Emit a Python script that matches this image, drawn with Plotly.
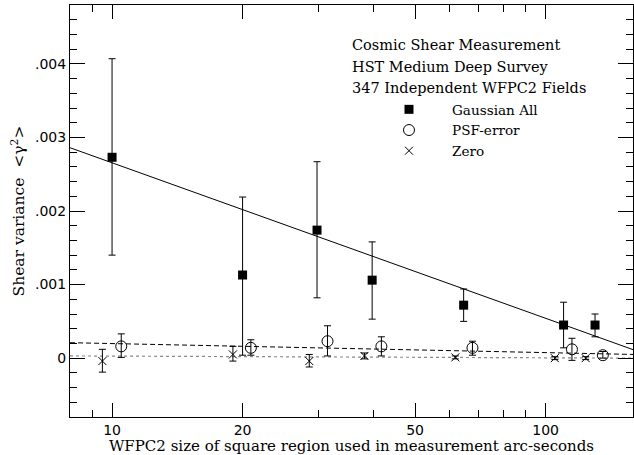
import plotly.graph_objects as go

# Gaussian All (filled squares)
gauss_x = [10, 20, 29.7, 39.8, 64.7, 110, 130]
gauss_y = [0.00273, 0.00113, 0.00174, 0.00106, 0.00072, 0.00045, 0.00045]
gauss_hi = [0.00407, 0.00219, 0.00267, 0.00158, 0.00094, 0.00076, 0.00060]
gauss_lo = [0.00140, 0.00004, 0.00082, 0.00053, 0.00050, 0.00014, 0.00029]

# PSF-error (open circles)
psf_x = [10.5, 20.9, 31.4, 41.8, 67.8, 115, 135.5]
psf_y = [0.00016, 0.00014, 0.00023, 0.00016, 0.00014, 0.00012, 0.00004]
psf_hi = [0.00033, 0.00025, 0.00044, 0.00029, 0.00023, 0.00027, 0.00009]
psf_lo = [0.00001, 0.00004, 0.00003, 0.00003, 0.00004, -0.00003, 0.0]

# Zero (crosses)
zero_x = [9.5, 19.0, 28.5, 38.2, 61.9, 105, 123.7]
zero_y = [-0.00004, 0.00005, -0.00004, 0.00003, 0.00001, 0.0, 0.0]
zero_hi = [0.00012, 0.00016, 0.00005, 0.00007, 0.00003, 0.00002, 0.00002]
zero_lo = [-0.00019, -0.00004, -0.00012, -0.00001, -0.00001, -0.00002, -0.00002]

# fit lines (end points)
fit_x = [8, 160]
fit_gauss = [0.00286, 0.00011]
fit_psf = [0.00021, 0.00005]
fit_zero = [0.00003, 0.00000]

ytick_vals = [0, 0.001, 0.002, 0.003, 0.004]
ytick_text = ["0", ".001", ".002", ".003", ".004"]
xtick_vals = [10, 20, 50, 100]
xtick_text = ["10", "20", "50", "100"]
xminor_vals = [9, 30, 40, 60, 70, 80, 90]

header = ["Cosmic Shear Measurement", "HST Medium Deep Survey", "347 Independent WFPC2 Fields"]

SERIF = "DejaVu Serif"
TXT = 14.5


def err(y, hi, lo):
    return dict(type="data", symmetric=False,
                array=[h - v for h, v in zip(hi, y)],
                arrayminus=[v - l for v, l in zip(y, lo)],
                color="black", thickness=1, width=3.5)


fig = go.Figure()
fig.add_trace(go.Scatter(x=fit_x, y=fit_gauss, mode="lines", line=dict(color="black", width=1),
                         showlegend=False))
fig.add_trace(go.Scatter(x=fit_x, y=fit_psf, mode="lines", line=dict(color="black", width=1, dash="5px,3px"),
                         showlegend=False))
fig.add_trace(go.Scatter(x=fit_x, y=fit_zero, mode="lines", line=dict(color="#888888", width=1.2, dash="dot"),
                         showlegend=False))

fig.add_trace(go.Scatter(x=gauss_x, y=gauss_y, mode="markers", name="Gaussian All",
                         marker=dict(symbol="square", size=9, color="black"),
                         error_y=err(gauss_y, gauss_hi, gauss_lo)))
fig.add_trace(go.Scatter(x=psf_x, y=psf_y, mode="markers", name="PSF-error",
                         marker=dict(symbol="circle-open", size=11, color="black", line=dict(width=1)),
                         error_y=err(psf_y, psf_hi, psf_lo)))
fig.add_trace(go.Scatter(x=zero_x, y=zero_y, mode="markers", name="Zero",
                         marker=dict(symbol="x-thin-open", size=8, color="black", line=dict(width=1)),
                         error_y=err(zero_y, zero_hi, zero_lo)))

for i, t in enumerate(header):
    fig.add_annotation(xref="paper", yref="paper", x=(352 - 70) / 563, y=1 - (45 + 21.5 * i - 5) / 412,
                       xanchor="left", yanchor="middle", text=t, showarrow=False, xshift=-2,
                       font=dict(family=SERIF, size=TXT, color="black"))

fig.update_layout(
    width=634, height=455,
    margin=dict(l=70, r=1, t=5, b=38),
    paper_bgcolor="white", plot_bgcolor="white",
    font=dict(family=SERIF, size=TXT, color="black"),
    legend=dict(x=(366 - 70) / 563, y=1 - (94 - 5) / 412, xanchor="left", yanchor="top",
                bgcolor="rgba(0,0,0,0)", itemwidth=76, font=dict(family=SERIF, size=13.6),
                tracegroupgap=0),
    xaxis=dict(type="log", range=[0.903, 2.2015], showline=True, linecolor="black", linewidth=1,
               mirror="ticks", ticks="inside", ticklen=14, tickwidth=1, tickcolor="black",
               tickvals=xtick_vals, ticktext=xtick_text, showgrid=False, zeroline=False,
               tickfont=dict(family="DejaVu Sans", size=14),
               minor=dict(tickvals=xminor_vals, ticks="inside", ticklen=7, tickcolor="black", showgrid=False),
               title=dict(text="WFPC2 size of square region used in measurement arc-seconds", standoff=0,
                          font=dict(family=SERIF, size=15))),
    yaxis=dict(range=[-0.0008, 0.0048], showline=True, linecolor="black", linewidth=1,
               mirror="ticks", ticks="inside", ticklen=15, tickwidth=1, tickcolor="black",
               tickvals=ytick_vals, ticktext=ytick_text, showgrid=False, zeroline=False,
               tickfont=dict(family="DejaVu Sans", size=14),
               minor=dict(dtick=0.0002, ticks="inside", ticklen=7, tickcolor="black", showgrid=False),
               title=dict(text="Shear variance  <γ<sup>2</sup>>", standoff=6,
                          font=dict(family=SERIF, size=15.5))),
)

fig.write_html("out.html", post_script="document.body.style.margin='0';",
               config={"displayModeBar": False})
